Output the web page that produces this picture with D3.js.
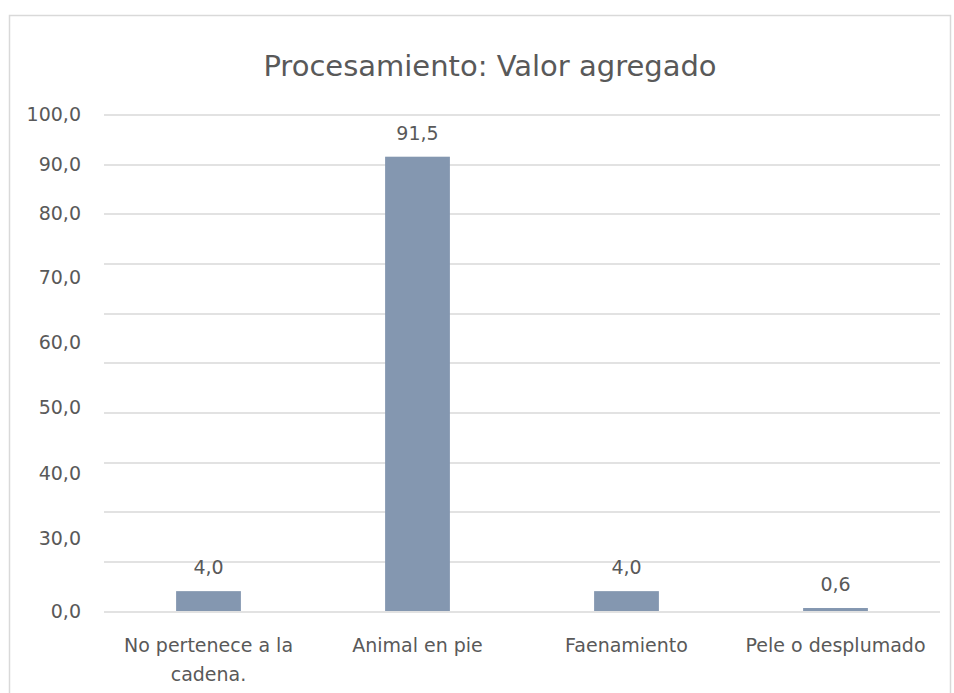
<!DOCTYPE html>
<html>
<head>
<meta charset="utf-8">
<script src="https://cdn.jsdelivr.net/npm/d3@7"></script>
<style>
  body { margin: 0; background: #fff; }
  text { font-family: "DejaVu Sans", sans-serif; fill: #595959; }
</style>
</head>
<body>
<div id="chart"></div>
<script>
// Data
const categories = ["No pertenece a la cadena.", "Animal en pie", "Faenamiento", "Pele o desplumado"];
const values = [4.0, 91.5, 4.0, 0.6];
// y-axis labels as printed, and where they sit on the axis (in axis units)
const tickLabels = [0, 30, 40, 50, 60, 70, 80, 90, 100];
const tickLabelAt = [0, 14.7, 27.8, 41.0, 54.0, 67.1, 80, 90, 100];
const gridValues = [0, 10, 20, 30, 40, 50, 60, 70, 80, 90, 100];
const title = "Procesamiento: Valor agregado";

const W = 954, H = 693;
const margin = {top: 114.5, left: 104, right: 14, bottom: 82};
const width = W - margin.left - margin.right;
const height = H - margin.top - margin.bottom;

const locale = d3.formatLocale({decimal: ",", thousands: ".", grouping: [3], currency: ["", ""]});
const fmt = locale.format(".1f");

const svg = d3.select("#chart").append("svg")
    .attr("width", W)
    .attr("height", H);

// chart border
svg.append("rect")
    .attr("x", 9.5).attr("y", 15.5)
    .attr("width", 941).attr("height", 720)
    .attr("fill", "none")
    .attr("stroke", "#d9d9d9")
    .attr("stroke-width", 1.5);

svg.append("text")
    .attr("x", 490).attr("y", 76)
    .attr("text-anchor", "middle")
    .style("font-size", "29px")
    .text(title);

const g = svg.append("g")
    .attr("transform", `translate(${margin.left},${margin.top})`);

const x = d3.scaleBand()
    .domain(categories)
    .range([0, width])
    .paddingInner(0.69)
    .paddingOuter(0.345);

const y = d3.scaleLinear()
    .domain([0, 100])
    .range([height, 0]);

// gridlines
g.append("g")
    .selectAll("line")
    .data(gridValues)
    .join("line")
    .attr("x1", 0).attr("x2", width)
    .attr("y1", d => Math.round(y(d)) + 0.5)
    .attr("y2", d => Math.round(y(d)) + 0.5)
    .attr("stroke", "#d9d9d9")
    .attr("stroke-width", 1.3);

// y axis labels
const yAxis = d3.axisLeft(y)
    .tickValues(tickLabelAt)
    .tickFormat((d, i) => fmt(tickLabels[i]))
    .tickSize(0)
    .tickPadding(23);

g.append("g")
    .call(yAxis)
    .call(a => a.select(".domain").remove())
    .selectAll("text")
    .style("font-size", "19px")
    .style("font-family", "'DejaVu Sans', sans-serif")
    .attr("fill", "#595959");

// bars
g.selectAll(".bar")
    .data(values)
    .join("rect")
    .attr("class", "bar")
    .attr("x", (d, i) => x(categories[i]))
    .attr("width", x.bandwidth())
    .attr("y", d => y(d))
    .attr("height", d => y(0) - y(d))
    .attr("fill", "#8497b0");

// value labels
g.selectAll(".lbl")
    .data(values)
    .join("text")
    .attr("class", "lbl")
    .attr("x", (d, i) => x(categories[i]) + x.bandwidth() / 2)
    .attr("y", d => y(d) - 17)
    .attr("text-anchor", "middle")
    .style("font-size", "19px")
    .text(d => fmt(d));

// category labels, wrapped like the original
const wrapAt = {"No pertenece a la cadena.": ["No pertenece a la", "cadena."]};
const cat = g.selectAll(".cat")
    .data(categories)
    .join("text")
    .attr("class", "cat")
    .attr("text-anchor", "middle")
    .attr("transform", d => `translate(${x(d) + x.bandwidth() / 2},${height + 41})`)
    .style("font-size", "19px");

cat.selectAll("tspan")
    .data(d => wrapAt[d] || [d])
    .join("tspan")
    .attr("x", 0)
    .attr("dy", (d, i) => i === 0 ? 0 : 29)
    .text(d => d);
</script>
</body>
</html>
